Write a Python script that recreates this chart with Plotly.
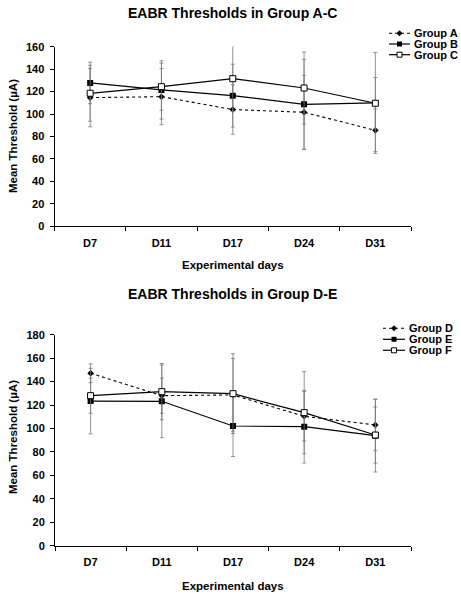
import plotly.graph_objects as go

days = ["D7", "D11", "D17", "D24", "D31"]

group_a = [114.6, 115.5, 104.0, 101.6, 85.5]
group_a_err = [26, 25, 22, 33, 19]
group_b = [127.7, 121.5, 116.4, 108.7, 109.9]
group_b_err = [18.5, 26, 28, 40, 45]
group_c = [118.5, 124.4, 131.5, 123.2, 109.6]
group_c_err = [25, 21, 29, 32, 23]

group_d = [147.1, 128.0, 128.6, 110.4, 103.0]
group_d_err = [8, 15, 31, 21, 22]
group_e = [123.4, 123.2, 102.1, 101.5, 93.9]
group_e_err = [28, 31, 26, 31, 31]
group_f = [128.0, 131.4, 129.7, 113.5, 94.4]
group_f_err = [15, 24, 34, 35, 24]

W, H = 461, 600
FONT = "Liberation Sans, Arial, sans-serif"
ERRC = "#7a7a7a"

def px_x(p):
    return p / W

def px_y(p):
    return 1 - p / H

fig = go.Figure()

line_styles = {
    "dot": dict(color="black", width=1.1, dash="dot"),
    "fill": dict(color="black", width=1.2),
    "open": dict(color="black", width=1.2),
}
marker_styles = {
    "dot": dict(symbol="diamond", size=5, color="black"),
    "fill": dict(symbol="square", size=6, color="black"),
    "open": dict(symbol="square", size=6, color="white",
                 line=dict(color="black", width=1)),
}
legend_marker_styles = {
    "dot": dict(symbol="diamond", size=4.5, color="black"),
    "fill": dict(symbol="square", size=5, color="black"),
    "open": dict(symbol="square", size=5, color="white",
                 line=dict(color="black", width=1)),
}

def add(name, y, err, style, xa, ya):
    fig.add_trace(go.Scatter(
        x=days, y=y, name=name, mode="lines+markers",
        xaxis=xa, yaxis=ya, showlegend=False,
        error_y=dict(type="data", array=err, visible=True,
                     color=ERRC, thickness=0.8, width=2),
        line=line_styles[style], marker=marker_styles[style]))

add("Group A", group_a, group_a_err, "dot", "x", "y")
add("Group B", group_b, group_b_err, "fill", "x", "y")
add("Group C", group_c, group_c_err, "open", "x", "y")
add("Group D", group_d, group_d_err, "dot", "x2", "y2")
add("Group E", group_e, group_e_err, "fill", "x2", "y2")
add("Group F", group_f, group_f_err, "open", "x2", "y2")

# Hand-drawn legends on a pixel overlay axis (x3/y3)
def legend_entry(name, style, x0, x1, y):
    fig.add_trace(go.Scatter(x=[x0, x1], y=[y, y], mode="lines",
                             line=line_styles[style], xaxis="x3", yaxis="y3",
                             showlegend=False, hoverinfo="skip"))
    fig.add_trace(go.Scatter(x=[(x0 + x1) / 2], y=[y], mode="markers",
                             marker=legend_marker_styles[style], xaxis="x3",
                             yaxis="y3", showlegend=False, hoverinfo="skip"))
    fig.add_annotation(text=f"<b>{name}</b>", x=x1 + 2, y=y, xref="x3", yref="y3",
                       showarrow=False, xanchor="left", yanchor="middle",
                       font=dict(family=FONT, size=11, color="black"))

legend1 = [("Group A", "dot"), ("Group B", "fill"), ("Group C", "open")]
legend2 = [("Group D", "dot"), ("Group E", "fill"), ("Group F", "open")]
for i, (n, s) in enumerate(legend1):
    legend_entry(n, s, 389, 410, 33.3 + i * 10.7)
for i, (n, s) in enumerate(legend2):
    legend_entry(n, s, 383, 405, 328.3 + i * 11)

tickfont = dict(family=FONT, size=11, color="black")
xcommon = dict(type="category", categoryorder="array", categoryarray=days,
               range=[-0.5, 4.5], tickson="boundaries", ticks="outside",
               ticklen=4, tickcolor="black", showline=True, linecolor="black",
               linewidth=1, showgrid=False, zeroline=False, tickfont=tickfont,
               ticklabelstandoff=6, fixedrange=True, automargin=False,
               tickprefix="<b>", ticksuffix="</b>")
ycommon = dict(ticks="outside", ticklen=4, tickcolor="black", showline=True,
               linecolor="black", linewidth=1, showgrid=False, zeroline=False,
               tickfont=tickfont, fixedrange=True, automargin=False,
               ticklabelstandoff=3, tickprefix="<b>", ticksuffix="</b>")

fig.update_layout(
    template="none",
    width=W, height=H,
    margin=dict(l=0, r=0, t=0, b=0),
    paper_bgcolor="white", plot_bgcolor="rgba(0,0,0,0)",
    font=dict(family=FONT, color="black"),
    showlegend=False,
    xaxis=dict(domain=[px_x(54.5), px_x(411)], anchor="y", **xcommon),
    yaxis=dict(domain=[px_y(226.3), px_y(46.7)], anchor="x",
               range=[0, 160], dtick=20, **ycommon),
    xaxis2=dict(domain=[px_x(55), px_x(411)], anchor="y2", **xcommon),
    yaxis2=dict(domain=[px_y(545.7), px_y(334.7)], anchor="x2",
                range=[0, 180], dtick=20, **ycommon),
    xaxis3=dict(domain=[0, 1], range=[0, W], visible=False, fixedrange=True,
                anchor="y3"),
    yaxis3=dict(domain=[0, 1], range=[H, 0], visible=False, fixedrange=True,
                anchor="x3"),
)

def ann(text, x, y, size, angle=0):
    fig.add_annotation(text=f"<b>{text}</b>", x=px_x(x), y=px_y(y),
                       xref="paper", yref="paper", showarrow=False,
                       textangle=angle, xanchor="center", yanchor="middle",
                       font=dict(family=FONT, size=size, color="black"))

ann("EABR Thresholds in Group A-C", 232, 13, 14)
ann("EABR Thresholds in Group D-E", 232, 294, 14)
ann("Experimental days", 233, 265, 11.5)
ann("Experimental days", 233, 586, 11.5)
ann("Mean Threshold (µA)", 13, 136, 11.5, -90)
ann("Mean Threshold (µA)", 13, 437, 11.5, -90)

fig.write_html("out.html", config={"displayModeBar": False},
               post_script="document.body.style.margin='0';document.body.style.overflow='hidden';")
